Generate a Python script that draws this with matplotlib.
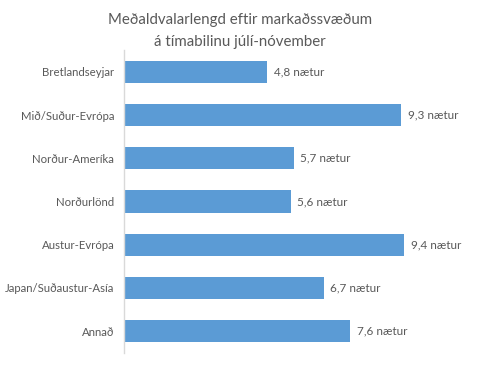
import matplotlib.pyplot as plt

plt.rcParams['font.family'] = ['Lato', 'DejaVu Sans']

svaedi = ["Bretlandseyjar", "Mið/Suður-Evrópa", "Norður-Ameríka", "Norðurlönd",
          "Austur-Evrópa", "Japan/Suðaustur-Asía", "Annað"]
naetur = [4.8, 9.3, 5.7, 5.6, 9.4, 6.7, 7.6]

grar = '#595959'
blar = '#5B9BD5'

fig = plt.figure(figsize=(4.8, 3.67), dpi=100)
ax = fig.add_axes([124 / 480, 1 - 352.6 / 367, 356 / 480, 302.2 / 367])

y = list(range(len(svaedi)))
ax.barh(y, naetur, height=0.51, color=blar)
ax.set_ylim(len(svaedi) - 0.5, -0.5)
ax.set_xlim(0, 356 / 29.8)

# gildi hægra megin við súlurnar
for yi, v in zip(y, naetur):
    ax.text(v + 0.22, yi, f"{v:.1f}".replace('.', ',') + " nætur",
            va='center', ha='left', fontsize=8.5, color=grar)

ax.set_yticks(y)
ax.set_yticklabels(svaedi, fontsize=8.2, color=grar)
ax.tick_params(axis='y', length=0, pad=7)
ax.set_xticks([])
for s in ['top', 'right', 'bottom']:
    ax.spines[s].set_visible(False)
ax.spines['left'].set_color('#D9D9D9')
ax.spines['left'].set_linewidth(1)

fig.text(0.5, 1 - 31 / 367, "Meðaldvalarlengd eftir markaðssvæðum\ná tímabilinu júlí-nóvember",
         ha='center', va='center', fontsize=10.8, color=grar, linespacing=1.75)

fig.savefig('out.png', dpi=100)
